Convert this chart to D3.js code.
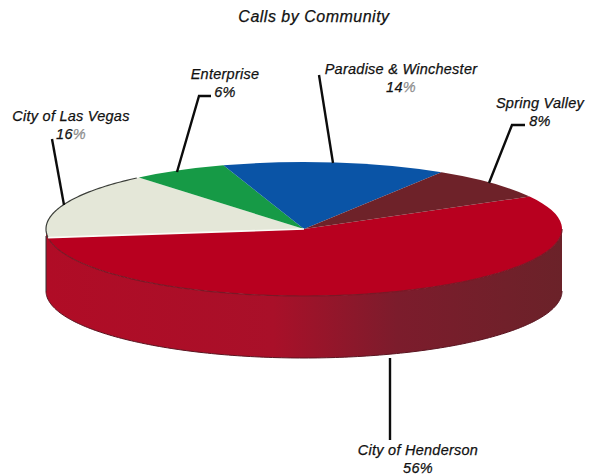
<!DOCTYPE html>
<html>
<head>
<meta charset="utf-8">
<script src="https://cdnjs.cloudflare.com/ajax/libs/d3/7.8.5/d3.min.js"></script>
<style>
  html, body { margin: 0; background: #fff; }
  svg { display: block; }
  text { font-family: "Liberation Sans", Arial, sans-serif; font-style: italic; fill: #111; stroke: #111; stroke-width: 0.25px; }
</style>
</head>
<body>
<svg id="chart" width="590" height="476"></svg>
<script>
const communities = ["City of Henderson", "City of Las Vegas", "Enterprise", "Paradise & Winchester", "Spring Valley"];
const shares = [56, 16, 6, 14, 8];
const sliceColors = ["#b8001f", "#e4e7d8", "#169a46", "#0a54a6", "#6e2229"];
const chartTitle = "Calls by Community";

// Label placement: text centre, first baseline, and the leader's path from rim to label.
const labelLayout = [
  { x: 418, y: 455, leader: [[390, 358], [390, 440]] },
  { x: 71,  y: 121, leader: [[64, 205], [52, 139]] },
  { x: 225, y: 79,  leader: [[177, 172], [199, 96], [211, 96]] },
  { x: 401, y: 74,  leader: [[333, 163], [319, 75]] },
  { x: 540, y: 108, leader: [[489, 183], [512, 125], [525, 125]] }
];
const mutedPercent = new Set(["City of Las Vegas", "Paradise & Winchester"]);

const cx = 304, cy = 229, rx = 258, ry = 67, depth = 62;
const firstAngle = 61 * Math.PI / 180;
const svg = d3.select("#chart");

const defs = svg.append("defs");
const wallGradient = defs.append("linearGradient")
  .attr("id", "wallShade")
  .attr("gradientUnits", "userSpaceOnUse")
  .attr("x1", cx - rx).attr("x2", cx + rx).attr("y1", 0).attr("y2", 0);
[[0, "#b00c26"], [0.44, "#a91029"], [0.68, "#7c1c2c"], [1, "#6b2229"]].forEach(([o, c]) =>
  wallGradient.append("stop").attr("offset", o).attr("stop-color", c));

// Rim position for a pie angle (0 = top, clockwise) on the flattened disc.
const rimX = a => cx + rx * Math.sin(a);
const rimY = a => cy - ry * Math.cos(a);

const slices = d3.pie().sort(null)
  .startAngle(firstAngle).endAngle(firstAngle + 2 * Math.PI)(shares);

// Cylinder wall: the front half of the rim, dropped by the disc depth.
const frontAngles = d3.range(Math.PI / 2, 3 * Math.PI / 2 + 0.001, Math.PI / 180);
const wallArea = d3.area()
  .x(rimX).y0(rimY).y1(a => rimY(a) + depth);
svg.append("path")
  .attr("d", wallArea(frontAngles))
  .attr("fill", "url(#wallShade)");

svg.append("path")
  .attr("d", d3.line().x(rimX).y(a => rimY(a) + depth)(frontAngles))
  .attr("fill", "none").attr("stroke", "#5a1420").attr("stroke-width", 1);
svg.append("line")
  .attr("x1", cx - rx).attr("x2", cx - rx)
  .attr("y1", cy + 7).attr("y2", cy + depth)
  .attr("stroke", "#333").attr("stroke-width", 1);

// Top surface: a regular pie squashed vertically.
const arc = d3.arc().innerRadius(0).outerRadius(rx);
const topFace = svg.append("g")
  .attr("transform", `translate(${cx},${cy}) scale(1,${ry / rx})`);
topFace.selectAll("path")
  .data(slices)
  .join("path")
  .attr("d", arc)
  .attr("fill", (d, i) => sliceColors[i]);

// Shaded seam where the top surface meets the wall.
const henderson = slices[0];
const seamAngles = d3.range(Math.PI / 2, henderson.endAngle, Math.PI / 180);
svg.append("path")
  .attr("d", d3.line().x(rimX).y(rimY)(seamAngles))
  .attr("fill", "none").attr("stroke", "#7a1826").attr("stroke-width", 1.2);

// Dark outline around the pale slice, plus its light edge against the red.
const lasVegas = slices[1];
const paleAngles = d3.range(henderson.endAngle, lasVegas.endAngle, Math.PI / 180);
svg.append("path")
  .attr("d", d3.line().x(rimX).y(rimY)(paleAngles))
  .attr("fill", "none").attr("stroke", "#3c3f3a").attr("stroke-width", 1.2);
svg.append("line")
  .attr("x1", cx).attr("y1", cy)
  .attr("x2", rimX(henderson.endAngle)).attr("y2", rimY(henderson.endAngle))
  .attr("stroke", "#fbfbf6").attr("stroke-width", 1.6);

// Leader lines from the rim out to each label.
const leaderLine = d3.line();
svg.selectAll("path.leader")
  .data(labelLayout)
  .join("path")
  .attr("class", "leader")
  .attr("d", d => leaderLine(d.leader))
  .attr("fill", "none").attr("stroke", "#0c0c0c").attr("stroke-width", 2.4);

svg.append("text")
  .attr("x", 314).attr("y", 22)
  .attr("text-anchor", "middle").attr("font-size", 16)
  .attr("letter-spacing", 0.5)
  .text(chartTitle);

const labels = svg.selectAll("text.label")
  .data(communities)
  .join("text")
  .attr("class", "label")
  .attr("text-anchor", "middle")
  .attr("font-size", 14.5)
  .attr("letter-spacing", 0.25);
labels.append("tspan")
  .attr("x", (d, i) => labelLayout[i].x)
  .attr("y", (d, i) => labelLayout[i].y)
  .text(d => d);
const values = labels.append("tspan")
  .attr("x", (d, i) => labelLayout[i].x)
  .attr("y", (d, i) => labelLayout[i].y + 18)
  .text((d, i) => shares[i]);
values.append("tspan")
  .style("fill", d => mutedPercent.has(d) ? "#8d8d8d" : "#111")
  .style("stroke", d => mutedPercent.has(d) ? "#8d8d8d" : "#111")
  .text("%");
</script>
</body>
</html>
